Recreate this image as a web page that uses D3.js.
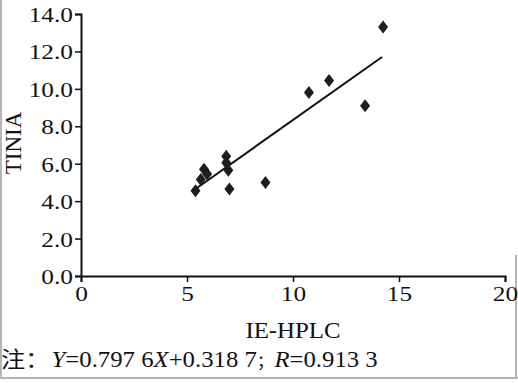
<!DOCTYPE html>
<html>
<head>
<meta charset="utf-8">
<script src="https://cdn.jsdelivr.net/npm/d3@7"></script>
<style>
  body { margin: 0; background: #fff; }
  svg { display: block; font-family: "Liberation Serif", "Times New Roman", serif; }
</style>
</head>
<body>
<svg id="chart"></svg>
<script>
// IE-HPLC vs TINIA values
const ieHplc = [5.4, 5.65, 5.8, 5.95, 6.85, 6.85, 6.95, 7.0, 8.7, 10.75, 11.7, 13.4, 14.25];
const tinia  = [4.55, 5.15, 5.7, 5.45, 6.4, 6.05, 5.65, 4.65, 5.0, 9.8, 10.45, 9.1, 13.3];

// fitted line ends
const fitX = [5.4, 14.2];
const fitY = [4.65, 11.7];

const xTicks = [0, 5, 10, 15, 20];
const yTicks = [0, 2, 4, 6, 8, 10, 12, 14];

const width = 518, height = 383;
const margin = { top: 14, right: 13, bottom: 107, left: 81 };

const svg = d3.select("#chart")
    .attr("width", width)
    .attr("height", height);

const x = d3.scaleLinear()
    .domain([0, 20])
    .range([margin.left, width - margin.right]);

const y = d3.scaleLinear()
    .domain([0, 14])
    .range([height - margin.bottom, margin.top]);

// frame lines of the page crop
svg.append("line")
    .attr("x1", 1).attr("x2", 1).attr("y1", 0).attr("y2", 378)
    .attr("stroke", "#b5b5b5").attr("stroke-width", 2);
svg.append("line")
    .attr("x1", 0).attr("x2", width).attr("y1", 378).attr("y2", 378)
    .attr("stroke", "#b5b5b5").attr("stroke-width", 2);
svg.append("line")
    .attr("x1", 516).attr("x2", 516).attr("y1", 255).attr("y2", 378)
    .attr("stroke", "#b5b5b5").attr("stroke-width", 2);

// x axis
const xAxis = svg.append("g")
    .attr("transform", `translate(0,${y(0)})`)
    .call(d3.axisBottom(x).tickValues(xTicks).tickSize(6).tickPadding(2).tickFormat(d3.format("d")));

// y axis
const yAxis = svg.append("g")
    .attr("transform", `translate(${x(0)},0)`)
    .call(d3.axisLeft(y).tickValues(yTicks).tickSize(6).tickPadding(1).tickFormat(d3.format(".1f")));

[xAxis, yAxis].forEach(g => {
    g.attr("font-family", null).attr("font-size", null);
    g.select(".domain").attr("stroke", "#111").attr("stroke-width", 2);
    g.selectAll(".tick line").attr("stroke", "#111").attr("stroke-width", 1.5);
    g.selectAll(".tick text")
        .attr("fill", "#111")
        .style("font-family", "'Liberation Serif', serif")
        .style("font-size", "22px");
});
// the print is a little stretched sideways
xAxis.selectAll(".tick text").attr("transform", "scale(1.15,1)").attr("dy", "0.78em");
yAxis.selectAll(".tick text").attr("transform", "scale(1.15,1)").attr("dy", "0.34em");

// axis titles
svg.append("text")
    .attr("transform", `translate(${(x(0) + x(20)) / 2},338) scale(1.08,1)`)
    .attr("text-anchor", "middle")
    .attr("fill", "#111")
    .style("font-size", "23px")
    .text("IE-HPLC");

svg.append("text")
    .attr("transform", `translate(21,${(y(0) + y(14)) / 2 - 2}) rotate(-90)`)
    .attr("text-anchor", "middle")
    .attr("fill", "#111")
    .style("font-size", "23px")
    .text("TINIA");

// regression line
svg.append("path")
    .datum(fitX.map((d, i) => [d, fitY[i]]))
    .attr("fill", "none")
    .attr("stroke", "#111")
    .attr("stroke-width", 2)
    .attr("d", d3.line().x(d => x(d[0])).y(d => y(d[1])));

// diamond markers
const diamond = "M0,-6.5L5,0L0,6.5L-5,0Z";
svg.selectAll(".point")
    .data(ieHplc)
    .enter()
    .append("path")
    .attr("class", "point")
    .attr("transform", (d, i) => `translate(${x(d)},${y(tinia[i])})`)
    .attr("d", diamond)
    .attr("fill", "#1e1e1e");

// note under the chart
const note = svg.append("text")
    .attr("transform", "translate(1,367) scale(1.1,1)")
    .attr("fill", "#111")
    .style("font-size", "22.5px");
note.append("tspan")
    .style("font-family", "'Noto Sans CJK SC', sans-serif")
    .style("font-size", "22px")
    .text("注：");
note.append("tspan").attr("dx", 2).style("font-style", "italic").text("Y");
note.append("tspan").text("=0.797 6");
note.append("tspan").style("font-style", "italic").text("X");
note.append("tspan").text("+0.318 7");
note.append("tspan")
    .style("font-family", "'Noto Sans CJK SC', sans-serif")
    .style("font-size", "16px")
    .text("；");
note.append("tspan").style("font-style", "italic").text("R");
note.append("tspan").text("=0.913 3");
</script>
</body>
</html>
